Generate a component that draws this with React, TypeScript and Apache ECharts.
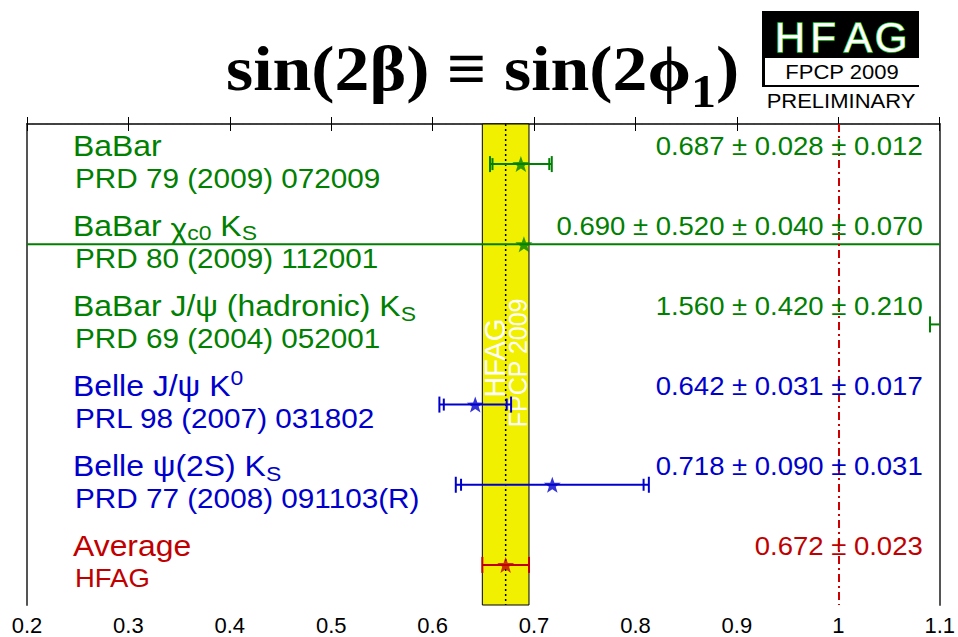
import React, { useEffect, useRef } from "react";
import * as echarts from "echarts";

// ---- data ----
const rowTitles = [
  "BaBar",
  "BaBar {chi|χ}{sub|c0} K{sub|S}",
  "BaBar J/ψ (hadronic) K{sub|S}",
  "Belle J/ψ K{sup|0}",
  "Belle ψ(2S) K{sub|S}",
  "Average",
];
const rowRefs = [
  "PRD 79 (2009) 072009",
  "PRD 80 (2009) 112001",
  "PRD 69 (2004) 052001",
  "PRL 98 (2007) 031802",
  "PRD 77 (2008) 091103(R)",
  "HFAG",
];
const centralValues = [0.687, 0.69, 1.56, 0.642, 0.718, 0.672];
const errorTerms: number[][] = [
  [0.028, 0.012],
  [0.52, 0.04, 0.07],
  [0.42, 0.21],
  [0.031, 0.017],
  [0.09, 0.031],
  [0.023],
];
const rowColors = ["#008000", "#008000", "#008000", "#0000cc", "#0000cc", "#c00000"];
const averageValue = 0.672;
const averageError = 0.023;
const referenceValue = 1.0;
const xMin = 0.2;
const xMax = 1.1;
const xStep = 0.1;
const logoLetters = ["H", "F", "A", "G"];

// ---- styling ----
const SANS = '"Liberation Sans", Arial, Helvetica, sans-serif';
const SERIF = '"Liberation Serif", "Times New Roman", serif';
const SX = 1.1;
const STAR =
  "path://M0,-10 L2.35,-3.24 L9.51,-3.09 L3.8,1.24 L5.88,8.09 L0,4 L-5.88,8.09 L-3.8,1.24 L-9.51,-3.09 L-2.35,-3.24 Z";

const totalError = (e: number[]) => Math.sqrt(e.reduce((s, v) => s + v * v, 0));
const valueText = (i: number) =>
  centralValues[i].toFixed(3) + errorTerms[i].map((e) => " ± " + e.toFixed(3)).join("");

function richFor(color: string, size: number) {
  return {
    sub: { fill: color, fontSize: size * 0.72, fontFamily: SANS, padding: [size * 0.55, 0, 0, 0] },
    sup: { fill: color, fontSize: size * 0.72, fontFamily: SANS, padding: [0, 0, size * 0.55, 0] },
    chi: { fill: color, fontSize: size, fontFamily: SANS, padding: [size * 0.25, 0, 0, 0] },
  };
}

const centerText = { align: "center", verticalAlign: "middle", textAlign: "center", textVerticalAlign: "middle" };

function buildOption(): any {
  const rowIdx = centralValues.map((_, i) => i);
  return {
    animation: false,
    backgroundColor: "#ffffff",
    grid: { left: 27, right: 15, top: 124, bottom: 32, show: false },
    xAxis: [
      {
        type: "value",
        min: xMin,
        max: xMax,
        interval: xStep,
        position: "bottom",
        axisLine: { show: true, lineStyle: { color: "#000", width: 1.5 } },
        axisTick: { show: true, inside: true, length: 7, lineStyle: { color: "#000", width: 1 } },
        minorTick: { show: false },
        splitLine: { show: false },
        axisLabel: {
          color: "#000",
          fontFamily: SANS,
          fontSize: 22,
          margin: 9,
          formatter: (v: number) => String(parseFloat(v.toFixed(2))),
        },
      },
      {
        type: "value",
        min: xMin,
        max: xMax,
        interval: xStep,
        position: "top",
        axisLine: { show: true, lineStyle: { color: "#444", width: 1.5, type: [5, 2] } },
        axisTick: { show: true, inside: true, length: 7, lineStyle: { color: "#000", width: 1 } },
        minorTick: { show: false },
        splitLine: { show: false },
        axisLabel: { show: false },
      },
    ],
    yAxis: [
      {
        type: "value",
        min: 0,
        max: centralValues.length,
        inverse: true,
        position: "left",
        axisLine: { show: true, lineStyle: { color: "#555", width: 2 } },
        axisTick: { show: false },
        axisLabel: { show: false },
        splitLine: { show: false },
      },
      {
        type: "value",
        min: 0,
        max: centralValues.length,
        inverse: true,
        position: "right",
        axisLine: { show: true, lineStyle: { color: "#555", width: 2 } },
        axisTick: { show: false },
        axisLabel: { show: false },
        splitLine: { show: false },
      },
    ],
    graphic: [
      {
        type: "text",
        x: 226,
        y: 22,
        scaleX: 1.09,
        style: {
          text: "sin(2β) ≡ sin(2ϕ{s|1})",
          font: `bold 64px ${SERIF}`,
          fill: "#000",
          rich: {
            s: { fontSize: 46, fontFamily: SERIF, fontWeight: "bold", fill: "#000", padding: [46, 0, 0, 0] },
          },
        },
      },
      {
        type: "group",
        x: 762,
        y: 11,
        children: [
          { type: "rect", shape: { x: 0, y: 0, width: 157, height: 76 }, style: { fill: "#000" } },
          { type: "rect", shape: { x: 3, y: 47, width: 154, height: 27 }, style: { fill: "#fff" } },
          ...logoLetters.map((ch, k) => ({
            type: "text",
            x: [28, 61, 96, 129][k],
            y: 26,
            style: {
              text: ch,
              font: `42px ${SANS}`,
              fill: "#fff",
              stroke: "#22cc22",
              lineWidth: 1.6,
              ...centerText,
            },
          })),
          {
            type: "text",
            x: 80,
            y: 61,
            scaleX: SX,
            style: { text: "FPCP 2009", font: `20px ${SANS}`, fill: "#000", ...centerText },
          },
          {
            type: "text",
            x: 79,
            y: 90,
            scaleX: SX,
            style: { text: "PRELIMINARY", font: `20px ${SANS}`, fill: "#000", ...centerText },
          },
        ],
      },
    ],
    series: [
      // HFAG average band
      {
        type: "custom",
        xAxisIndex: 0,
        yAxisIndex: 0,
        z: 1,
        data: [[averageValue, 3]],
        renderItem: (params: any, api: any) => {
          const cs = params.coordSys;
          const c = api.value(0);
          const xl = api.coord([c - averageError, 0])[0];
          const xr = api.coord([c + averageError, 0])[0];
          const xc = api.coord([c, 0])[0];
          const yH = api.coord([c, 2.92])[1];
          const yF = api.coord([c, 2.98])[1];
          return {
            type: "group",
            children: [
              {
                type: "rect",
                shape: { x: xl, y: cs.y, width: xr - xl, height: cs.height },
                style: { fill: "#f0f000", stroke: "#000", lineWidth: 1 },
              },
              {
                type: "line",
                shape: { x1: xc, y1: cs.y, x2: xc, y2: cs.y + cs.height },
                style: { stroke: "#000", lineWidth: 1.5, lineDash: [2, 3] },
              },
              {
                type: "text",
                x: xc - 11,
                y: yH,
                rotation: Math.PI / 2,
                style: { text: "HFAG", font: `29px ${SANS}`, fill: "#fff", ...centerText },
              },
              {
                type: "text",
                x: xc + 12,
                y: yF,
                rotation: Math.PI / 2,
                style: { text: "FPCP 2009", font: `25px ${SANS}`, fill: "#fff", ...centerText },
              },
            ],
          };
        },
        markLine: {
          silent: true,
          symbol: "none",
          label: { show: false },
          lineStyle: { color: "#cc0000", width: 2, type: [8, 4, 2, 4] },
          data: [{ xAxis: referenceValue }],
        },
      },
      // error bars
      {
        type: "custom",
        z: 3,
        data: rowIdx.map((i) => [centralValues[i], i + 0.5, i]),
        renderItem: (params: any, api: any) => {
          const cs = params.coordSys;
          const i = api.value(2);
          const c = api.value(0);
          const tot = totalError(errorTerms[i]);
          const stat = errorTerms[i][0];
          const y = api.coord([c, api.value(1)])[1];
          const x0 = cs.x;
          const x1 = cs.x + cs.width;
          const px = (v: number) => api.coord([v, 0])[0];
          const lo = px(c - tot);
          const hi = px(c + tot);
          const color = rowColors[i];
          const children: any[] = [];
          const a = Math.max(lo, x0);
          const b = Math.min(hi, x1);
          if (b > a) {
            children.push({ type: "line", shape: { x1: a, y1: y, x2: b, y2: y }, style: { stroke: color, lineWidth: 2 } });
          }
          const caps: [number, number][] = [
            [lo, 8],
            [hi, 8],
          ];
          if (errorTerms[i].length > 1) {
            caps.push([px(c - stat), 6], [px(c + stat), 6]);
          }
          caps.forEach(([x, h]) => {
            if (x >= x0 && x <= x1) {
              children.push({ type: "line", shape: { x1: x, y1: y - h, x2: x, y2: y + h }, style: { stroke: color, lineWidth: 2 } });
            }
          });
          return { type: "group", children };
        },
      },
      // central values
      {
        type: "scatter",
        z: 4,
        clip: true,
        symbol: STAR,
        symbolSize: [17, 16],
        data: rowIdx.map((i) => ({ value: [centralValues[i], i + 0.5], itemStyle: { color: rowColors[i] } })),
      },
      // row labels
      {
        type: "custom",
        z: 5,
        data: rowIdx.map((i) => [xMin, i + 0.5, i]),
        renderItem: (params: any, api: any) => {
          const cs = params.coordSys;
          const i = api.value(2);
          const y = api.coord([xMin, api.value(1)])[1];
          const color = rowColors[i];
          const isAvg = i === rowIdx.length - 1;
          return {
            type: "group",
            children: [
              {
                type: "text",
                x: cs.x + 46,
                y: y - 19,
                scaleX: SX,
                style: {
                  text: rowTitles[i],
                  fill: color,
                  fontSize: 29,
                  fontFamily: SANS,
                  align: "left",
                  verticalAlign: "middle",
                  textAlign: "left",
                  textVerticalAlign: "middle",
                  rich: richFor(color, 29),
                },
              },
              {
                type: "text",
                x: cs.x + 48,
                y: y + 14,
                scaleX: SX,
                style: {
                  text: rowRefs[i],
                  fill: color,
                  fontSize: isAvg ? 25 : 27,
                  fontFamily: SANS,
                  align: "left",
                  verticalAlign: "middle",
                  textAlign: "left",
                  textVerticalAlign: "middle",
                },
              },
              {
                type: "text",
                x: cs.x + cs.width - 17,
                y: y - 18,
                scaleX: SX,
                style: {
                  text: valueText(i),
                  fill: color,
                  fontSize: 25,
                  fontFamily: SANS,
                  align: "right",
                  verticalAlign: "middle",
                  textAlign: "right",
                  textVerticalAlign: "middle",
                },
              },
            ],
          };
        },
      },
    ],
  };
}

export default function App() {
  const ref = useRef<HTMLDivElement>(null);
  useEffect(() => {
    if (!ref.current) return;
    const chart = echarts.init(ref.current, null, { renderer: "svg" });
    chart.setOption(buildOption());
    return () => chart.dispose();
  }, []);
  return (
    <div
      ref={ref}
      style={{ position: "fixed", left: 0, top: 0, width: 958, height: 637, background: "#fff" }}
    />
  );
}
